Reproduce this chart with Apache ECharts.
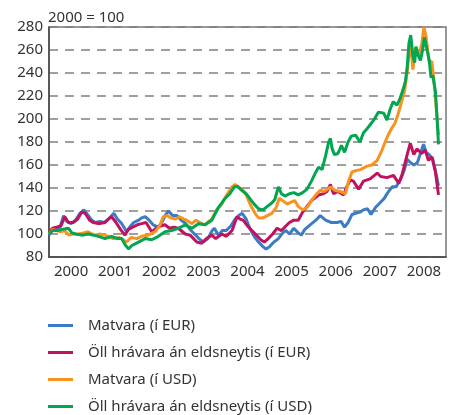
<!DOCTYPE html>
<html>
<head>
<meta charset="utf-8">
<script src="https://cdn.jsdelivr.net/npm/echarts@6/dist/echarts.min.js"></script>
<style>
  html, body { margin: 0; padding: 0; background: #fff; }
  #chart { width: 449px; height: 415px; }
</style>
</head>
<body>
<div id="chart"></div>
<script>
// year labels and y ticks
const years = ['2000', '2001', '2002', '2003', '2004', '2005', '2006', '2007', '2008']
const yMin = 80
const yMax = 280
const yStep = 20

const seriesNames = [
  'Matvara (í EUR)',
  'Öll hrávara án eldsneytis (í EUR)',
  'Matvara (í USD)',
  'Öll hrávara án eldsneytis (í USD)'
]
const colors = ['#3b7cc4', '#c0125f', '#f7931e', '#00a650']

// [year, index 2000 = 100]
const matvaraEur = [
  [2000.00, 99], [2000.08, 103], [2000.17, 105], [2000.25, 106], [2000.33, 116], [2000.40, 111],
  [2000.50, 109], [2000.60, 112], [2000.70, 118], [2000.79, 121], [2000.87, 117], [2000.97, 112],
  [2001.05, 110], [2001.15, 111], [2001.25, 110], [2001.35, 113], [2001.47, 118], [2001.55, 113],
  [2001.65, 109], [2001.76, 102], [2001.83, 106], [2001.92, 110], [2002.03, 112], [2002.10, 114],
  [2002.18, 115], [2002.27, 112], [2002.36, 108], [2002.48, 106], [2002.57, 111], [2002.65, 117],
  [2002.71, 120], [2002.80, 116], [2002.90, 116], [2003.00, 112], [2003.10, 109], [2003.22, 103],
  [2003.30, 100], [2003.40, 96], [2003.50, 93], [2003.60, 96], [2003.70, 103], [2003.75, 105],
  [2003.84, 99], [2003.93, 103], [2004.02, 103], [2004.12, 107], [2004.22, 113], [2004.30, 116],
  [2004.38, 118], [2004.47, 113], [2004.55, 105], [2004.65, 98], [2004.75, 93], [2004.85, 89],
  [2004.92, 87], [2005.00, 89], [2005.10, 93], [2005.20, 96], [2005.30, 101], [2005.37, 103],
  [2005.45, 100], [2005.55, 105], [2005.65, 101], [2005.72, 99], [2005.80, 104], [2005.92, 108],
  [2006.05, 112], [2006.15, 116], [2006.27, 112], [2006.40, 110], [2006.53, 110], [2006.62, 111],
  [2006.70, 106], [2006.78, 110], [2006.87, 117], [2006.95, 118], [2007.05, 119], [2007.13, 121],
  [2007.22, 122], [2007.30, 117], [2007.40, 123], [2007.50, 127], [2007.60, 131], [2007.68, 136],
  [2007.78, 141], [2007.87, 141], [2007.96, 147], [2008.05, 155], [2008.12, 165], [2008.20, 162],
  [2008.27, 160], [2008.35, 162], [2008.42, 170], [2008.49, 178], [2008.55, 171], [2008.62, 169],
  [2008.70, 165], [2008.76, 155], [2008.83, 142]
]
const hravaraEur = [
  [2000.00, 102], [2000.08, 105], [2000.17, 106], [2000.27, 107], [2000.36, 115], [2000.44, 110],
  [2000.55, 110], [2000.65, 113], [2000.74, 119], [2000.82, 118], [2000.92, 112], [2001.00, 110],
  [2001.12, 109], [2001.27, 110], [2001.35, 113], [2001.42, 115], [2001.52, 110], [2001.62, 104],
  [2001.72, 99], [2001.80, 104], [2001.90, 106], [2002.00, 108], [2002.10, 109], [2002.20, 110],
  [2002.33, 102], [2002.43, 105], [2002.53, 107], [2002.63, 108], [2002.73, 105], [2002.83, 106],
  [2002.93, 105], [2003.09, 100], [2003.20, 99], [2003.35, 93], [2003.46, 92], [2003.57, 96],
  [2003.69, 99], [2003.78, 96], [2003.92, 100], [2004.02, 98], [2004.15, 103], [2004.26, 115],
  [2004.33, 113], [2004.40, 112], [2004.50, 107], [2004.60, 103], [2004.70, 99], [2004.80, 95],
  [2004.88, 93], [2004.97, 96], [2005.07, 100], [2005.17, 105], [2005.27, 103], [2005.37, 107],
  [2005.45, 110], [2005.55, 112], [2005.65, 112], [2005.75, 119], [2005.85, 124], [2005.95, 129],
  [2006.02, 131], [2006.12, 134], [2006.22, 135], [2006.30, 137], [2006.38, 143], [2006.45, 135],
  [2006.55, 137], [2006.68, 134], [2006.75, 141], [2006.83, 147], [2006.90, 146], [2007.02, 139],
  [2007.13, 146], [2007.28, 148], [2007.44, 153], [2007.52, 150], [2007.66, 149], [2007.81, 151],
  [2007.93, 144], [2008.00, 151], [2008.12, 169], [2008.19, 179], [2008.27, 169], [2008.34, 174],
  [2008.45, 170], [2008.53, 173], [2008.60, 164], [2008.68, 167], [2008.76, 154], [2008.83, 134]
]
const matvaraUsd = [
  [2000.00, 100], [2000.08, 104], [2000.17, 103], [2000.27, 102], [2000.35, 103], [2000.45, 99],
  [2000.55, 100], [2000.66, 100], [2000.78, 101], [2000.89, 102], [2000.97, 100], [2001.05, 99],
  [2001.15, 100], [2001.25, 99], [2001.35, 98], [2001.45, 96], [2001.58, 97], [2001.68, 95],
  [2001.76, 93], [2001.86, 97], [2001.99, 96], [2002.10, 98], [2002.25, 99], [2002.41, 102],
  [2002.52, 108], [2002.59, 115], [2002.68, 116], [2002.76, 114], [2002.86, 113], [2002.96, 115],
  [2003.05, 113], [2003.12, 112], [2003.24, 109], [2003.33, 112], [2003.46, 109], [2003.54, 108],
  [2003.62, 111], [2003.69, 113], [2003.80, 121], [2003.92, 126], [2004.03, 134], [2004.15, 141],
  [2004.22, 143], [2004.30, 141], [2004.37, 139], [2004.47, 134], [2004.57, 125], [2004.67, 118],
  [2004.75, 114], [2004.85, 114], [2004.95, 116], [2005.05, 118], [2005.15, 123], [2005.22, 131],
  [2005.30, 129], [2005.40, 126], [2005.50, 128], [2005.57, 129], [2005.65, 124], [2005.75, 121],
  [2005.85, 123], [2005.95, 129], [2006.05, 134], [2006.15, 138], [2006.25, 137], [2006.38, 141],
  [2006.48, 138], [2006.60, 137], [2006.72, 135], [2006.80, 147], [2006.87, 154], [2006.95, 155],
  [2007.06, 156], [2007.21, 159], [2007.32, 160], [2007.44, 164], [2007.55, 173], [2007.62, 180],
  [2007.70, 187], [2007.77, 192], [2007.84, 196], [2007.92, 205], [2008.00, 216], [2008.06, 224],
  [2008.12, 241], [2008.19, 268], [2008.25, 243], [2008.31, 262], [2008.38, 255], [2008.45, 265],
  [2008.50, 280], [2008.55, 271], [2008.62, 249], [2008.68, 250], [2008.74, 228], [2008.80, 200],
  [2008.83, 186]
]
const hravaraUsd = [
  [2000.00, 100], [2000.08, 103], [2000.20, 103], [2000.30, 104], [2000.44, 105], [2000.52, 101],
  [2000.60, 100], [2000.74, 99], [2000.89, 100], [2001.00, 99], [2001.12, 98], [2001.27, 96],
  [2001.42, 98], [2001.55, 96], [2001.65, 96], [2001.72, 91], [2001.80, 87], [2001.88, 90],
  [2002.03, 93], [2002.18, 96], [2002.33, 95], [2002.48, 98], [2002.63, 102], [2002.78, 103],
  [2002.93, 105], [2003.09, 108], [2003.24, 105], [2003.39, 109], [2003.54, 108], [2003.69, 112],
  [2003.84, 123], [2003.99, 131], [2004.10, 135], [2004.20, 141], [2004.28, 141], [2004.37, 138],
  [2004.47, 135], [2004.55, 131], [2004.65, 126], [2004.75, 122], [2004.85, 121], [2004.95, 124],
  [2005.05, 127], [2005.12, 130], [2005.20, 141], [2005.27, 135], [2005.35, 133], [2005.45, 135],
  [2005.55, 136], [2005.65, 134], [2005.75, 136], [2005.85, 139], [2005.95, 146], [2006.05, 154],
  [2006.11, 158], [2006.19, 156], [2006.27, 168], [2006.34, 180], [2006.38, 183], [2006.42, 174],
  [2006.47, 169], [2006.55, 170], [2006.63, 177], [2006.70, 171], [2006.78, 180], [2006.85, 185],
  [2006.95, 186], [2007.05, 180], [2007.13, 188], [2007.20, 191], [2007.28, 195], [2007.36, 199],
  [2007.47, 206], [2007.59, 205], [2007.66, 199], [2007.73, 208], [2007.80, 215], [2007.89, 212],
  [2007.96, 218], [2008.03, 226], [2008.08, 233], [2008.12, 245], [2008.16, 266], [2008.20, 273],
  [2008.25, 255], [2008.29, 249], [2008.32, 263], [2008.36, 256], [2008.42, 251], [2008.47, 260],
  [2008.51, 271], [2008.56, 262], [2008.62, 251], [2008.66, 236], [2008.70, 238], [2008.76, 224],
  [2008.80, 199], [2008.83, 178]
]
const allData = [matvaraEur, hravaraEur, matvaraUsd, hravaraUsd]

const font = 'Noto Sans'
const chart = echarts.init(document.getElementById('chart'))

const option = {
  animation: false,
  textStyle: { fontFamily: font },
  title: {
    text: '2000 = 100',
    left: 48,
    top: 10,
    padding: 0,
    textStyle: { fontFamily: font, fontSize: 15, fontWeight: 'normal', color: '#333' }
  },
  grid: {
    left: 49,
    right: 3,
    top: 27,
    bottom: 158,
    show: true,
    borderColor: '#777',
    borderWidth: 1.5
  },
  legend: {
    orient: 'vertical',
    left: 48,
    top: 318,
    padding: 0,
    height: 97,
    itemWidth: 25,
    itemHeight: 3,
    itemGap: 12,
    icon: 'rect',
    textStyle: { fontFamily: font, fontSize: 15, color: '#333', padding: [0, 0, 0, 10] },
    data: seriesNames
  },
  xAxis: [
    {
      type: 'category',
      data: years,
      boundaryGap: true,
      axisLine: { lineStyle: { color: '#444', width: 1.5 } },
      axisTick: { length: 6, lineStyle: { color: '#444', width: 1.5 } },
      axisLabel: { interval: 0, fontFamily: font, fontSize: 15, color: '#333', margin: 7 },
      splitLine: { show: false }
    },
    {
      type: 'value',
      min: 2000,
      max: 2009,
      show: false,
      splitLine: { show: false }
    }
  ],
  yAxis: {
    type: 'value',
    min: yMin,
    max: yMax,
    interval: yStep,
    axisLine: { show: true, lineStyle: { color: '#444', width: 1.5 } },
    axisTick: { show: false },
    axisLabel: { fontFamily: font, fontSize: 15, color: '#333', margin: 6 },
    splitLine: { lineStyle: { color: '#808080', width: 1.5, type: [9, 7] } }
  },
  series: seriesNames.map((name, i) => ({
    name: name,
    type: 'line',
    xAxisIndex: 1,
    data: allData[i],
    showSymbol: false,
    symbol: 'none',
    color: colors[i],
    lineStyle: { width: 3, color: colors[i] }
  }))
}
chart.setOption(option)
</script>
</body>
</html>
